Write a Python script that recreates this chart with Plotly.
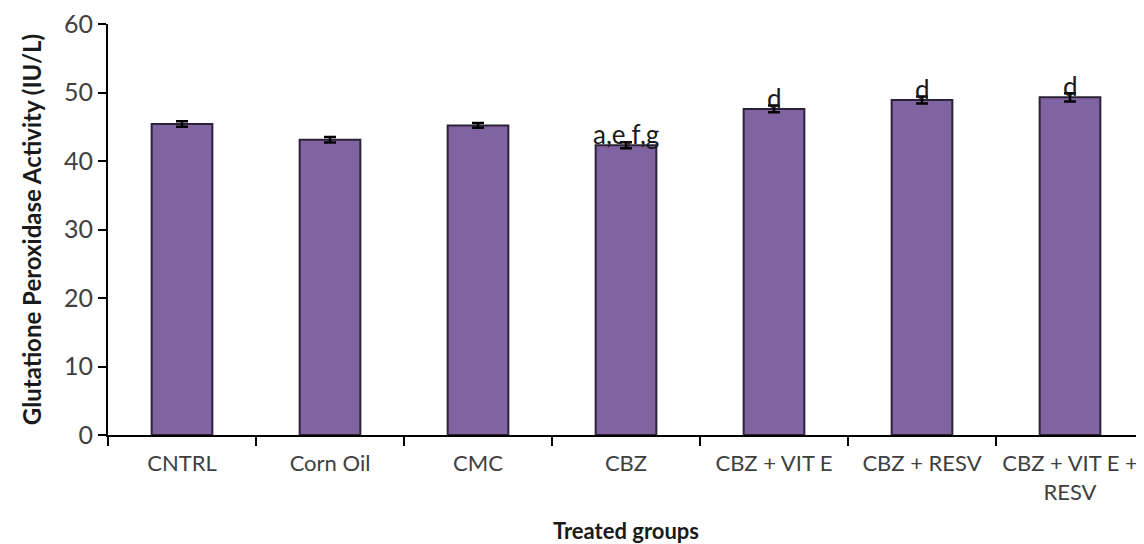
import plotly.graph_objects as go

categories = ["CNTRL", "Corn Oil", "CMC", "CBZ", "CBZ + VIT E", "CBZ + RESV", "CBZ + VIT E +<br>RESV"]
values = [45.4, 43.1, 45.2, 42.3, 47.6, 48.9, 49.3]
errors = [0.4, 0.4, 0.35, 0.45, 0.5, 0.5, 0.6]
sig_labels = ["", "", "", "a,e,f,g", "d", "d", "d"]

FONT = "Lato, Liberation Sans, sans-serif"

fig = go.Figure()
fig.add_trace(go.Bar(
    x=categories, y=values,
    marker=dict(color="#8064A2", line=dict(color="#2b2238", width=2)),
    width=0.41,
    error_y=dict(type="data", array=errors, visible=True, color="black", thickness=2.5, width=6),
    showlegend=False,
))

for c, v, e, s in zip(categories, values, errors, sig_labels):
    if s:
        fig.add_annotation(x=c, y=v, text=s, showarrow=False, yanchor="bottom",
                           yshift=-7, font=dict(family=FONT, size=26, color="#1a1a1a"))

fig.update_layout(
    width=1136, height=536,
    margin=dict(l=100, r=0, t=16, b=109),
    paper_bgcolor="white", plot_bgcolor="white",
    font=dict(family=FONT, color="#404040", size=21),
    bargap=0.59,
)
fig.update_xaxes(
    showline=True, linecolor="black", linewidth=2,
    ticks="outside", ticklen=9, tickcolor="black", tickwidth=1.5,
    tickson="boundaries", showgrid=False, ticklabelstandoff=8,
    tickfont=dict(family=FONT, size=22, color="#404040"),
    title=dict(text="<b>Treated groups</b>", font=dict(family=FONT, size=22, color="#1a1a1a"), standoff=20),
)
fig.update_yaxes(
    range=[0, 60], dtick=10, showline=True, linecolor="black", linewidth=2,
    ticks="outside", ticklen=8, tickcolor="black", tickwidth=1.5,
    showgrid=False, zeroline=False, ticklabeloverflow="allow",
    tickfont=dict(family=FONT, size=25, color="#404040"),
    title=dict(text="<b>Glutatione Peroxidase Activity (IU/L)</b>", font=dict(family=FONT, size=24, color="#1a1a1a"), standoff=16),
)

fig.write_html("out.html")
